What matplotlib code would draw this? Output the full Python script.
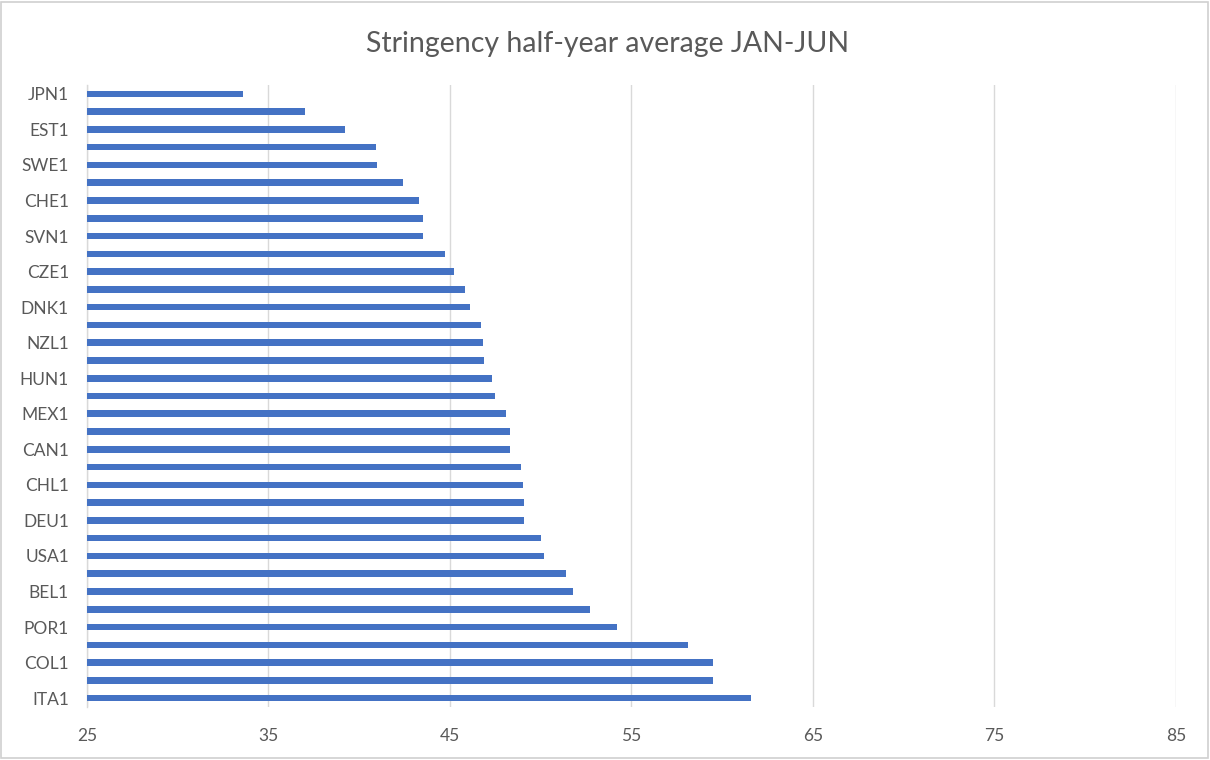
import matplotlib
matplotlib.use("Agg")
import matplotlib.pyplot as plt
from matplotlib.patches import Rectangle
import numpy as np

# Countries ordered from top of the chart to the bottom; every second label is shown
countries = [
    "JPN1", "", "EST1", "", "SWE1", "", "CHE1", "", "SVN1", "", "CZE1", "",
    "DNK1", "", "NZL1", "", "HUN1", "", "MEX1", "", "CAN1", "", "CHL1", "",
    "DEU1", "", "USA1", "", "BEL1", "", "POR1", "", "COL1", "", "ITA1",
]
stringency = [
    33.6, 37.0, 39.2, 40.9, 41.0, 42.4, 43.3, 43.5, 43.5, 44.7, 45.2, 45.8,
    46.1, 46.7, 46.8, 46.85, 47.3, 47.5, 48.1, 48.3, 48.3, 48.9, 49.0, 49.1,
    49.1, 50.0, 50.2, 51.4, 51.8, 52.7, 54.2, 58.1, 59.5, 59.5, 61.6,
]
x_ticks = [25, 35, 45, 55, 65, 75, 85]
title = "Stringency half-year average JAN-JUN"

plt.rcParams["font.family"] = ["Lato", "DejaVu Sans"]
text_color = "#595959"
grid_color = "#D9D9D9"
bar_color = "#4472C4"

fig = plt.figure(figsize=(12.1, 7.6), dpi=100)
ax = fig.add_axes([0.0719, 0.0697, 0.9, 0.8185])

y = np.arange(len(countries))
ax.barh(y, np.array(stringency) - 25, left=25, height=0.37, color=bar_color, zorder=3)

ax.set_xlim(25, 85)
ax.set_ylim(len(countries) - 0.5, -0.5)
ax.set_xticks(x_ticks)
ax.set_xticklabels([str(t) for t in x_ticks])
ax.set_yticks(y)
ax.set_yticklabels(countries)

ax.grid(axis="x", color=grid_color, linewidth=1.0, zorder=0)
for side in ["top", "right", "bottom"]:
    ax.spines[side].set_visible(False)
ax.spines["left"].set_color(grid_color)
ax.spines["left"].set_linewidth(1.0)
ax.tick_params(axis="both", length=0, labelsize=12.5, colors=text_color)
ax.tick_params(axis="x", pad=15)
ax.tick_params(axis="y", pad=13)

fig.text(0.502, 0.942, title, ha="center", va="center", fontsize=20.5,
         color=text_color)

# Light frame around the whole chart area
fig.add_artist(Rectangle((0.001, 0.002), 0.997, 0.996, transform=fig.transFigure,
                         fill=False, edgecolor="#D0D0D0", linewidth=1.2))

fig.savefig("out.png", dpi=100, facecolor="white")
